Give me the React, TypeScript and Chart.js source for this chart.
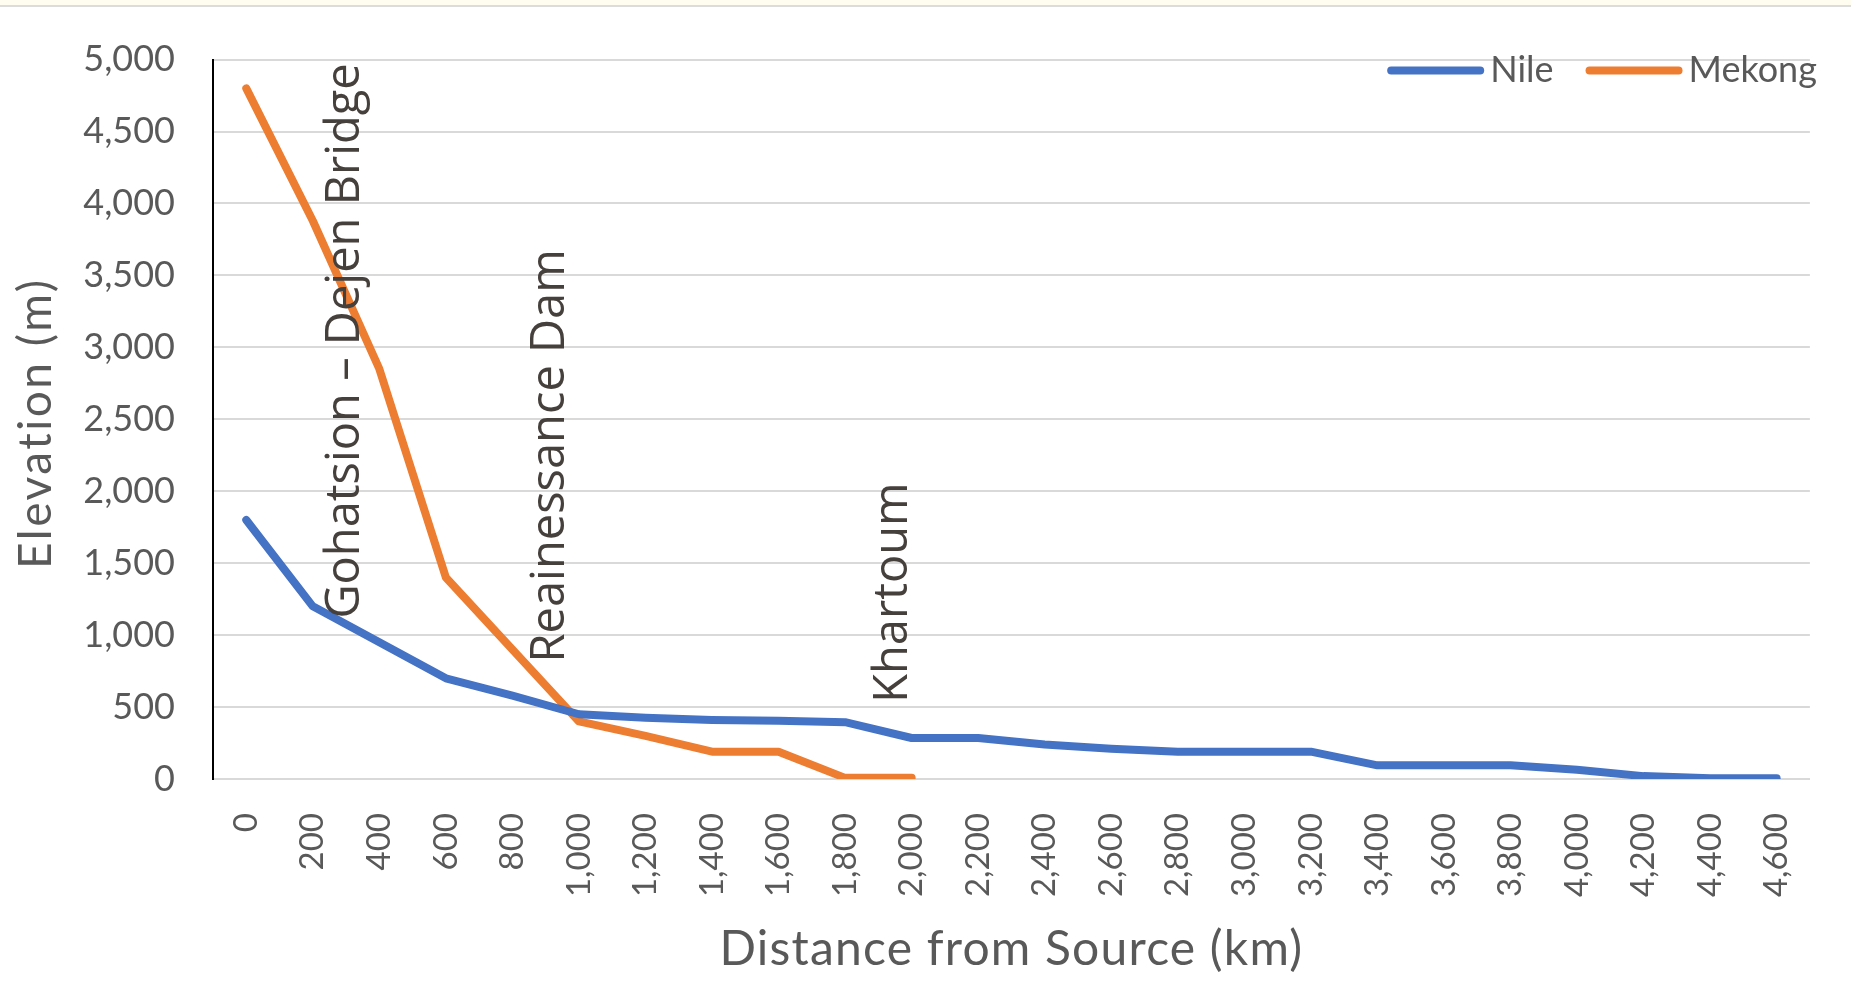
import React, { useEffect, useRef } from 'react';
import { Chart, registerables } from 'chart.js';

Chart.register(...registerables);

// ---- data ----
const distanceLabels = [
  '0', '200', '400', '600', '800', '1,000', '1,200', '1,400', '1,600', '1,800', '2,000', '2,200',
  '2,400', '2,600', '2,800', '3,000', '3,200', '3,400', '3,600', '3,800', '4,000', '4,200', '4,400', '4,600',
];
const nileElevation = [
  1800, 1200, 950, 700, 580, 450, 425, 410, 405, 395, 285, 285,
  240, 210, 190, 190, 190, 95, 95, 95, 65, 20, 5, 5,
];
const mekongElevation = [
  4800, 3880, 2850, 1400, 900, 400, 300, 190, 190, 8, 8, null,
  null, null, null, null, null, null, null, null, null, null, null, null,
];
const seriesNames = ['Nile', 'Mekong'];
const seriesColors = ['#4472C4', '#ED7D31'];
const yMin = 0;
const yMax = 5000;
const yStep = 500;
const xTitle = 'Distance from Source (km)';
const yTitle = 'Elevation (m)';
const annotationTexts = ['Gohatsion – Dejen Bridge', 'Reainessance Dam', 'Khartoum'];
const annotationKm = [340, 955, 1985];
const annotationElevation = [1115, 810, 530];
const kmPerCategory = 200;

const W = 1851;
const H = 987;

const overlayPlugin = {
  id: 'overlay',
  afterDatasetsDraw(chart: any) {
    const { ctx, scales } = chart;
    const xs = scales.x;
    const ys = scales.y;
    ctx.save();
    ctx.fillStyle = '#46403c';
    ctx.font = '47px "Open Sans"';
    ctx.textAlign = 'left';
    ctx.textBaseline = 'alphabetic';
    annotationTexts.forEach((t, i) => {
      const px = xs.getPixelForValue(annotationKm[i] / kmPerCategory);
      const py = ys.getPixelForValue(annotationElevation[i]);
      ctx.save();
      ctx.translate(px, py);
      ctx.rotate(-Math.PI / 2);
      ctx.fillText(t, 0, 0);
      ctx.restore();
    });
    ctx.restore();
  },
  afterDraw(chart: any) {
    const { ctx, chartArea } = chart;
    // axis titles (with letter spacing)
    ctx.save();
    ctx.fillStyle = '#595959';
    ctx.textAlign = 'center';
    ctx.textBaseline = 'middle';
    ctx.font = '46px Lato';
    (ctx as any).letterSpacing = '2.5px';
    ctx.save();
    ctx.translate(36, (chartArea.top + chartArea.bottom) / 2 + 4);
    ctx.rotate(-Math.PI / 2);
    ctx.fillText(yTitle, 0, 0);
    ctx.restore();
    ctx.font = '48px Lato';
    (ctx as any).letterSpacing = '1.2px';
    ctx.fillText(xTitle, (chartArea.left + chartArea.right) / 2, 950);
    ctx.restore();

    // legend
    ctx.save();
    ctx.font = '36px Lato';
    ctx.textBaseline = 'middle';
    ctx.textAlign = 'left';
    const lineLen = 97;
    const gapText = 6;
    const gapItem = 32;
    const y = chartArea.top + 11;
    let right = chartArea.right + 7;
    const items = seriesNames.map((n, i) => ({ n, c: seriesColors[i] })).reverse();
    items.forEach((it) => {
      const tw = ctx.measureText(it.n).width;
      const tx = right - tw;
      ctx.fillStyle = '#595959';
      ctx.fillText(it.n, tx, y);
      const lx1 = tx - gapText;
      const lx0 = lx1 - lineLen;
      ctx.strokeStyle = it.c;
      ctx.lineWidth = 8;
      ctx.lineCap = 'round';
      ctx.beginPath();
      ctx.moveTo(lx0 + 4, y);
      ctx.lineTo(lx1 - 4, y);
      ctx.stroke();
      right = lx0 - gapItem;
    });
    ctx.restore();
  },
};

export default function App() {
  const ref = useRef<HTMLCanvasElement | null>(null);
  useEffect(() => {
    if (!ref.current) return;
    const chart = new Chart(ref.current, {
      type: 'line',
      data: {
        labels: distanceLabels,
        datasets: [
          {
            label: seriesNames[0],
            data: nileElevation,
            borderColor: seriesColors[0],
            backgroundColor: seriesColors[0],
            borderWidth: 8,
            pointRadius: 0,
            tension: 0,
            borderJoinStyle: 'round',
            borderCapStyle: 'round',
          },
          {
            label: seriesNames[1],
            data: mekongElevation as any,
            borderColor: seriesColors[1],
            backgroundColor: seriesColors[1],
            borderWidth: 8,
            pointRadius: 0,
            tension: 0,
            spanGaps: false,
            borderJoinStyle: 'round',
            borderCapStyle: 'round',
          },
        ],
      },
      options: {
        responsive: false,
        animation: false,
        devicePixelRatio: 1,
        layout: { padding: { top: 54, right: 37, bottom: 10, left: 10 } },
        plugins: {
          legend: { display: false },
          tooltip: { enabled: false },
        },
        scales: {
          x: {
            type: 'category',
            offset: true,
            grid: { display: false, drawTicks: false },
            border: { display: true, color: '#d9d9d9', width: 2 },
            ticks: {
              autoSkip: false,
              minRotation: 90,
              maxRotation: 90,
              padding: 34,
              color: '#595959',
              font: { family: 'Lato', size: 33 },
            },
            title: { display: false, text: xTitle },
            afterFit(scale: any) {
              scale.height = H - 10 - 779;
            },
          },
          y: {
            min: yMin,
            max: yMax,
            grid: { color: '#d9d9d9', lineWidth: 2, drawTicks: false },
            border: { display: true, color: '#000000', width: 2 },
            ticks: {
              stepSize: yStep,
              padding: 38,
              color: '#595959',
              font: { family: 'Lato', size: 36 },
              callback: (v: any) => Number(v).toLocaleString('en-US'),
            },
            title: { display: false, text: yTitle },
            afterFit(scale: any) {
              scale.width = 213 - 10;
            },
          },
        },
      },
      plugins: [overlayPlugin],
    } as any);
    return () => chart.destroy();
  }, []);

  return (
    <div style={{ position: 'absolute', left: 0, top: 0, width: W, height: H, background: '#ffffff' }}>
      <div style={{ position: 'absolute', left: 0, top: 0, width: W, height: 5, background: '#fffdf0' }} />
      <div style={{ position: 'absolute', left: 0, top: 5, width: W, height: 2, background: '#dcdcdc' }} />
      <canvas ref={ref} width={W} height={H} style={{ position: 'absolute', left: 0, top: 0, width: W, height: H }} />
    </div>
  );
}
